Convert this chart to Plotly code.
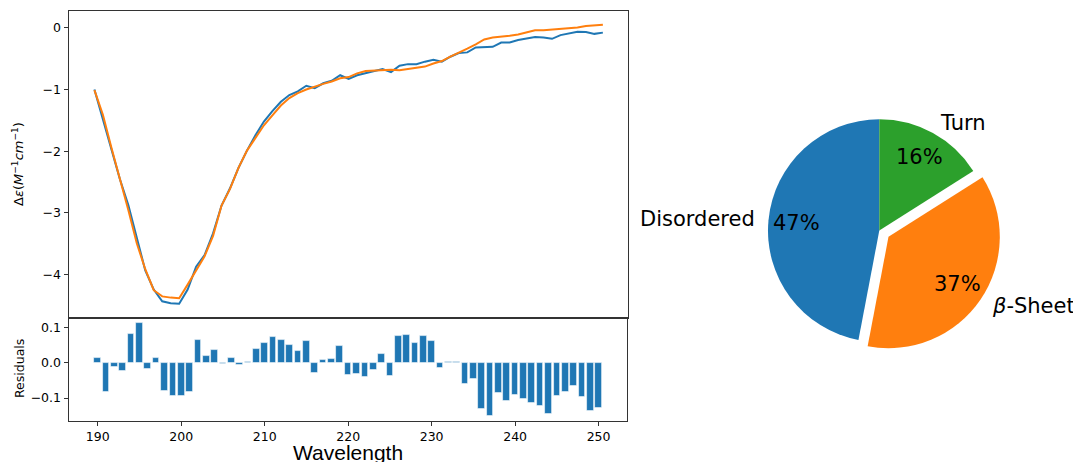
import numpy as np
import plotly.graph_objects as go

# ---- data -------------------------------------------------------------
wavelength = list(range(190, 251))

cd_measured = [
    -1.00, -1.49, -1.95, -2.45, -2.87, -3.38, -3.93, -4.24, -4.43, -4.46,
    -4.47, -4.24, -3.87, -3.68, -3.33, -2.88, -2.60, -2.27, -1.99, -1.74,
    -1.52, -1.35, -1.20, -1.09, -1.03, -0.94, -0.98, -0.90, -0.86, -0.77,
    -0.83, -0.77, -0.74, -0.71, -0.67, -0.72, -0.615, -0.59, -0.59, -0.55,
    -0.52, -0.55, -0.47, -0.41, -0.40, -0.32, -0.32, -0.31, -0.24, -0.24,
    -0.20, -0.18, -0.15, -0.16, -0.18, -0.12, -0.09, -0.065, -0.07, -0.10,
    -0.08,
]

cd_fit = [
    -1.01, -1.41, -1.94, -2.43, -2.95, -3.49, -3.91, -4.25, -4.35, -4.37,
    -4.38, -4.16, -3.93, -3.70, -3.37, -2.88, -2.61, -2.27, -1.99, -1.78,
    -1.58, -1.42, -1.26, -1.14, -1.06, -1.00, -0.95, -0.91, -0.87, -0.82,
    -0.80, -0.74, -0.70, -0.69, -0.69, -0.68, -0.69, -0.67, -0.65, -0.63,
    -0.58, -0.54, -0.47, -0.41, -0.34, -0.27, -0.19, -0.16, -0.15, -0.13,
    -0.11, -0.08, -0.04, -0.04, -0.03, -0.025, -0.008, 0.002, 0.026, 0.037,
    0.049,
]

residuals = [
    0.014, -0.083, -0.013, -0.023, 0.081, 0.112, -0.019, 0.014, -0.080, -0.093,
    -0.093, -0.082, 0.063, 0.019, 0.036, -0.003, 0.014, -0.005, 0.001, 0.038,
    0.056, 0.072, 0.064, 0.051, 0.032, 0.061, -0.028, 0.008, 0.010, 0.047,
    -0.035, -0.033, -0.040, -0.021, 0.025, -0.037, 0.076, 0.078, 0.056, 0.077,
    0.061, -0.015, 0.002, 0.003, -0.060, -0.047, -0.131, -0.151, -0.087, -0.109,
    -0.092, -0.102, -0.113, -0.122, -0.146, -0.095, -0.082, -0.067, -0.096, -0.137,
    -0.129,
]

structure_labels = ["Disordered", "<i>β</i>-Sheet", "Turn"]
structure_pct = [47, 37, 16]
structure_pull = [0, 0.1, 0]

BLUE, ORANGE, GREEN = "#1f77b4", "#ff7f0e", "#2ca02c"

# ---- layout geometry (pixels) ----------------------------------------
W, H = 1073, 462
TICK_FONT = dict(family="DejaVu Sans", size=12.5, color="black")
SPINE = "#333333"


def px_x(x):
    return x / W


def px_y(y):
    return 1 - y / H


fig = go.Figure()

# spectra (upper panel)
fig.add_trace(go.Scatter(x=wavelength, y=cd_measured, mode="lines",
                         line=dict(color=BLUE, width=2),
                         xaxis="x2", yaxis="y2", showlegend=False))
fig.add_trace(go.Scatter(x=wavelength, y=cd_fit, mode="lines",
                         line=dict(color=ORANGE, width=2),
                         xaxis="x2", yaxis="y2", showlegend=False))

# residuals (lower panel)
fig.add_trace(go.Bar(x=wavelength, y=residuals, width=0.8,
                     marker=dict(color=BLUE,
                                 line=dict(color="rgba(255,255,255,0.7)", width=0.8)),
                     xaxis="x", yaxis="y", showlegend=False))

# secondary structure pie: first wedge starts at 12 o'clock, going counterclockwise
fracs = np.array(structure_pct, dtype=float) / np.sum(structure_pct)
pie_cx, pie_cy, pie_r = 879.3, 230.6, 111.3
half = pie_r * (1 + max(structure_pull))
fig.add_trace(go.Pie(
    labels=structure_labels, values=structure_pct, pull=structure_pull,
    sort=False, direction="counterclockwise", rotation=-360.0 * fracs[0],
    marker=dict(colors=[BLUE, ORANGE, GREEN], line=dict(width=0)),
    textinfo="none", hoverinfo="label+percent", showlegend=False,
    domain=dict(x=[px_x(pie_cx - half), px_x(pie_cx + half)],
                y=[px_y(pie_cy + half), px_y(pie_cy - half)]),
))

annotations = []
start = 90.0
PIE_FONT = dict(family="DejaVu Sans", size=21, color="black")
for lab, f, p in zip(structure_labels, fracs, structure_pull):
    mid = np.deg2rad(start + 180.0 * f)
    start += 360.0 * f
    ux, uy = np.cos(mid), np.sin(mid)
    cx = pie_cx + p * pie_r * ux
    cy = pie_cy - p * pie_r * uy
    # outer label
    lx, ly = cx + 1.1 * pie_r * ux, cy - 1.1 * pie_r * uy
    annotations.append(dict(x=px_x(lx), y=px_y(ly), xref="paper", yref="paper",
                            text=lab, showarrow=False, font=PIE_FONT,
                            xanchor="right" if ux < 0 else "left", yanchor="middle"))
    # percentage inside the wedge
    tx, ty = cx + 0.75 * pie_r * ux, cy - 0.75 * pie_r * uy
    annotations.append(dict(x=px_x(tx), y=px_y(ty), xref="paper", yref="paper",
                            text=f"{f * 100:.0f}%", showarrow=False, font=PIE_FONT,
                            xanchor="center", yanchor="middle"))

# axis titles
annotations.append(dict(x=px_x(18), y=px_y(164), xref="paper", yref="paper",
                        text="Δ<i>ε</i>(<i>M</i><sup>−1</sup><i>cm</i><sup>−1</sup>)",
                        textangle=-90, showarrow=False,
                        font=dict(family="DejaVu Sans", size=13, color="black"),
                        xanchor="center", yanchor="middle"))
annotations.append(dict(x=px_x(19), y=px_y(369), xref="paper", yref="paper",
                        text="Residuals", textangle=-90, showarrow=False,
                        font=dict(family="DejaVu Sans", size=12.5, color="black"),
                        xanchor="center", yanchor="middle"))
annotations.append(dict(x=px_x(347.5), y=px_y(452), xref="paper", yref="paper",
                        text="Wavelength", showarrow=False,
                        font=dict(family="Liberation Sans", size=21, color="black"),
                        xanchor="center", yanchor="middle"))

axis_common = dict(showline=True, mirror=True, linecolor=SPINE, linewidth=1,
                   showgrid=False, zeroline=False, ticks="outside", ticklen=4.5,
                   tickwidth=1, tickcolor=SPINE, tickfont=TICK_FONT)

fig.update_layout(
    width=W, height=H,
    margin=dict(l=0, r=0, t=0, b=0),
    paper_bgcolor="white", plot_bgcolor="white",
    bargap=0,
    annotations=annotations,
    xaxis=dict(domain=[px_x(69), px_x(627.3)], range=[186.56, 253.44],
               tickvals=[190, 200, 210, 220, 230, 240, 250], anchor="y",
               **axis_common),
    yaxis=dict(domain=[px_y(420.7), px_y(318)], range=[-0.164, 0.1266],
               tickvals=[-0.1, 0.0, 0.1], tickformat=".1f", anchor="x",
               **axis_common),
    xaxis2=dict(domain=[px_x(69), px_x(628.3)], range=[187, 253],
                showticklabels=False, anchor="y2",
                **{**axis_common, "ticks": ""}),
    yaxis2=dict(domain=[px_y(318), px_y(10.7)], range=[-4.70, 0.275],
                tickvals=[-4, -3, -2, -1, 0], anchor="x2",
                **axis_common),
)

fig.write_html("out.html")
